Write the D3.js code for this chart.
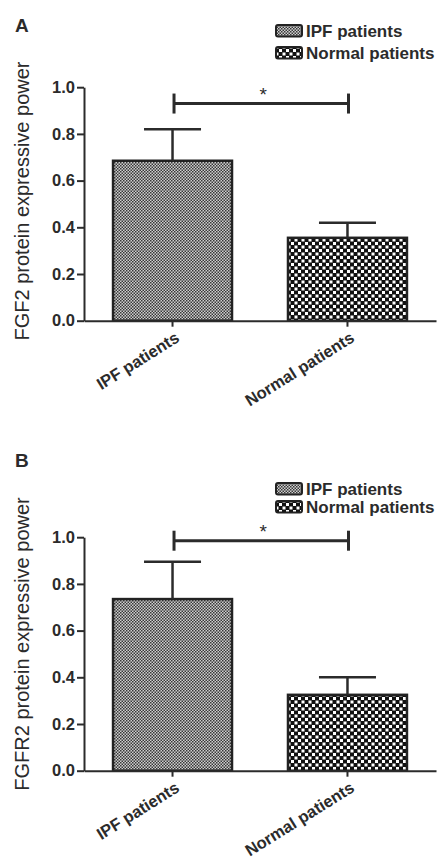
<!DOCTYPE html>
<html>
<head>
<meta charset="utf-8">
<script src="https://cdn.jsdelivr.net/npm/d3@7"></script>
<style>
  body { margin: 0; background: #fff; }
  text { font-family: "Liberation Sans", Arial, sans-serif; fill: #2b2b2b; }
</style>
</head>
<body>
<script>
const categories = ["IPF patients", "Normal patients"];
const fgf2Means = [0.685, 0.355];
const fgf2Errors = [0.135, 0.065];
const fgfr2Means = [0.735, 0.325];
const fgfr2Errors = [0.16, 0.075];
const yTicks = [0, 0.2, 0.4, 0.6, 0.8, 1.0];
const significanceLevels = [0.93, 0.985];
const panelLabels = ["A", "B"];
const yTitles = ["FGF2 protein expressive power", "FGFR2 protein expressive power"];

const width = 438;
const height = 863;
const plotHeight = 233.5;
const ink = "#2b2b2b";
const fillIds = ["ipfFill", "normalFill"];

let svg = d3.select("body")
  .append("svg")
  .attr("width", width)
  .attr("height", height);

// fill patterns: fine grey dots for IPF, coarse checks for normal
let defs = svg.append("defs");

let ipf = defs.append("pattern")
  .attr("id", fillIds[0])
  .attr("patternUnits", "userSpaceOnUse")
  .attr("width", 3)
  .attr("height", 3);
ipf.append("rect").attr("width", 3).attr("height", 3).attr("fill", "#cfcfcf");
ipf.append("rect").attr("width", 1.5).attr("height", 1.5).attr("fill", "#383838");
ipf.append("rect").attr("x", 1.5).attr("y", 1.5).attr("width", 1.5).attr("height", 1.5).attr("fill", "#383838");

let normal = defs.append("pattern")
  .attr("id", fillIds[1])
  .attr("patternUnits", "userSpaceOnUse")
  .attr("width", 7)
  .attr("height", 7);
normal.append("rect").attr("width", 7).attr("height", 7).attr("fill", "#111");
normal.append("rect").attr("x", 0.5).attr("y", 0.5).attr("width", 3).attr("height", 3).attr("fill", "#fff");
normal.append("rect").attr("x", 4).attr("y", 4).attr("width", 3).attr("height", 3).attr("fill", "#fff");

const x = d3.scaleBand()
  .domain(categories)
  .range([84, 436])
  .paddingInner(0.32)
  .paddingOuter(0.166);

const panels = [
  { label: panelLabels[0], title: yTitles[0], means: fgf2Means, errors: fgf2Errors, sig: significanceLevels[0],
    zeroY: 320.7, labelY: 32, legendY: 37, legendGap: 22, titleY: 201 },
  { label: panelLabels[1], title: yTitles[1], means: fgfr2Means, errors: fgfr2Errors, sig: significanceLevels[1],
    zeroY: 770.7, labelY: 467, legendY: 495, legendGap: 18, titleY: 644 }
];

panels.forEach(drawPanel);

function drawPanel(p) {
  let g = svg.append("g");
  let y = d3.scaleLinear().domain([0, 1]).range([p.zeroY, p.zeroY - plotHeight]);
  let cx = d => x(d) + x.bandwidth() / 2;
  let rows = categories.map((c, i) => ({ cat: c, mean: p.means[i], err: p.errors[i], fill: fillIds[i] }));

  // panel letter
  g.append("text")
    .attr("x", 15)
    .attr("y", p.labelY)
    .style("font-size", "19px")
    .style("font-weight", "bold")
    .text(p.label);

  // y axis
  let yAxis = g.append("g")
    .attr("transform", "translate(84,0)")
    .call(d3.axisLeft(y).tickValues(yTicks).tickFormat(d3.format(".1f")).tickSize(7).tickSizeOuter(0).tickPadding(2));
  yAxis.select(".domain").attr("stroke", ink).attr("stroke-width", 2);
  yAxis.selectAll(".tick line").attr("stroke", ink).attr("stroke-width", 2);
  yAxis.selectAll(".tick text")
    .attr("fill", ink)
    .style("font-size", "16.5px")
    .style("font-weight", "bold")
    .style("font-family", "Liberation Sans, Arial, sans-serif");

  g.append("text")
    .attr("transform", `translate(29,${p.titleY}) rotate(-90)`)
    .attr("text-anchor", "middle")
    .style("font-size", "20px")
    .text(p.title);

  // bars
  g.selectAll("rect.bar")
    .data(rows)
    .enter().append("rect")
    .attr("class", "bar")
    .attr("x", d => x(d.cat))
    .attr("y", d => y(d.mean))
    .attr("width", x.bandwidth())
    .attr("height", d => y(0) - y(d.mean))
    .attr("fill", d => `url(#${d.fill})`)
    .attr("stroke", "#222")
    .attr("stroke-width", 2.5);

  // error bars (upper only)
  g.selectAll("line.stem")
    .data(rows)
    .enter().append("line")
    .attr("x1", d => cx(d.cat)).attr("x2", d => cx(d.cat))
    .attr("y1", d => y(d.mean)).attr("y2", d => y(d.mean + d.err))
    .attr("stroke", ink).attr("stroke-width", 2.5);
  g.selectAll("line.cap")
    .data(rows)
    .enter().append("line")
    .attr("x1", d => cx(d.cat) - 28.5).attr("x2", d => cx(d.cat) + 28.5)
    .attr("y1", d => y(d.mean + d.err)).attr("y2", d => y(d.mean + d.err))
    .attr("stroke", ink).attr("stroke-width", 2.5);

  // x axis
  let xAxis = g.append("g")
    .attr("transform", `translate(0,${y(0)})`)
    .call(d3.axisBottom(x).tickSize(6).tickSizeOuter(0));
  xAxis.select(".domain").attr("stroke", ink).attr("stroke-width", 2);
  xAxis.selectAll(".tick line").attr("stroke", ink).attr("stroke-width", 2);
  xAxis.selectAll(".tick text")
    .attr("fill", ink)
    .attr("x", 0).attr("y", 0).attr("dy", 0)
    .attr("text-anchor", "end")
    .attr("transform", "translate(8,20) rotate(-32)")
    .style("font-size", "16.5px")
    .style("font-weight", "bold")
    .style("font-family", "Liberation Sans, Arial, sans-serif");

  // significance bracket
  let x1 = cx(categories[0]) + 1.5, x2 = cx(categories[1]) + 1, yb = y(p.sig);
  g.append("line").attr("x1", x1).attr("x2", x2).attr("y1", yb).attr("y2", yb)
    .attr("stroke", ink).attr("stroke-width", 3);
  [x1, x2].forEach(xx => {
    g.append("line").attr("x1", xx).attr("x2", xx).attr("y1", yb - 10).attr("y2", yb + 10)
      .attr("stroke", ink).attr("stroke-width", 3);
  });
  g.append("text")
    .attr("x", (x1 + x2) / 2 + 2)
    .attr("y", yb - 3)
    .attr("text-anchor", "middle")
    .style("font-size", "19px")
    .text("*");

  // legend
  let legend = g.selectAll("g.legend")
    .data(rows)
    .enter().append("g")
    .attr("transform", (d, i) => `translate(275,${p.legendY + i * p.legendGap})`);
  legend.append("rect")
    .attr("x", 1).attr("y", -12)
    .attr("width", 26).attr("height", 11.5)
    .attr("rx", 2)
    .attr("fill", d => `url(#${d.fill})`)
    .attr("stroke", "#222")
    .attr("stroke-width", 2);
  legend.append("text")
    .attr("x", 31)
    .attr("y", 0)
    .style("font-size", "17px")
    .style("font-weight", "bold")
    .text(d => d.cat);
}
</script>
</body>
</html>
